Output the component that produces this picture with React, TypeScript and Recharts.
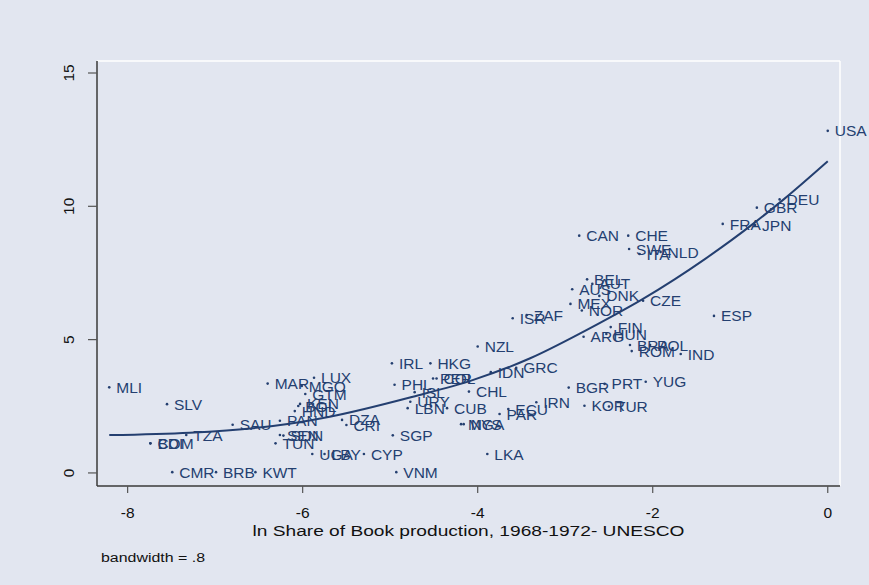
import React from 'react';
import { ComposedChart, Scatter, Line, XAxis, YAxis, ReferenceLine } from 'recharts';

const countries = [
  'MLI', 'SLV', 'BDI', 'COM', 'TZA', 'SAU', 'MAR', 'PAN', 'TUN', 'SDN', 'SEN',
  'CMR', 'BRB', 'KWT', 'LUX', 'MGO', 'GTM', 'KEN', 'BOL', 'HND', 'DZA', 'CRI',
  'UGA', 'LBY', 'CYP', 'SGP', 'VNM', 'IRL', 'HKG', 'PHL', 'PER', 'COL', 'ISL',
  'URY', 'LBN', 'CUB', 'CHL', 'NZL', 'IDN', 'GRC', 'MYS', 'NGA', 'PAR', 'ECU',
  'IRN', 'LKA', 'ISR', 'ZAF', 'BGR', 'PRT', 'YUG', 'KOR', 'TUR', 'ARG', 'FIN',
  'HUN', 'BRA', 'POL', 'ROM', 'IND', 'AUS', 'BEL', 'AUT', 'DNK', 'MEX', 'NOR',
  'CZE', 'CAN', 'CHE', 'SWE', 'ITA', 'NLD', 'ESP', 'FRA', 'JPN', 'GBR', 'DEU', 'USA',
];

const lnBookShare = [
  -8.21, -7.55, -7.74, -7.74, -7.33, -6.80, -6.40, -6.26, -6.31, -6.22, -6.26,
  -7.49, -6.99, -6.54, -5.87, -6.01, -5.97, -6.03, -6.05, -6.09, -5.55, -5.50,
  -5.89, -5.75, -5.30, -4.97, -4.93, -4.98, -4.54, -4.95, -4.51, -4.47, -4.72,
  -4.77, -4.80, -4.35, -4.10, -4.00, -3.85, -3.56, -4.19, -4.16, -3.75, -3.65,
  -3.33, -3.89, -3.60, -3.44, -2.96, -2.55, -2.08, -2.78, -2.50, -2.79, -2.48,
  -2.53, -2.26, -2.03, -2.24, -1.68, -2.92, -2.75, -2.69, -2.61, -2.94, -2.81,
  -2.11, -2.84, -2.28, -2.27, -2.15, -1.91, -1.30, -1.20, -0.83, -0.81, -0.55, 0.0,
];

const yValue = [
  3.21, 2.58, 1.11, 1.11, 1.42, 1.81, 3.35, 1.96, 1.11, 1.40, 1.42,
  0.03, 0.03, 0.03, 3.57, 3.26, 2.96, 2.59, 2.51, 2.32, 1.99, 1.80,
  0.71, 0.71, 0.71, 1.41, 0.03, 4.11, 4.11, 3.31, 3.54, 3.54, 3.03,
  2.67, 2.43, 2.43, 3.05, 4.74, 3.78, 3.94, 1.83, 1.83, 2.21, 2.40,
  2.65, 0.71, 5.80, 5.92, 3.20, 3.34, 3.42, 2.52, 2.49, 5.11, 5.47,
  5.21, 4.80, 4.80, 4.57, 4.46, 6.89, 7.26, 7.09, 6.64, 6.34, 6.09,
  6.46, 8.90, 8.90, 8.40, 8.21, 8.29, 5.89, 9.34, 9.30, 9.95, 10.26, 12.83,
];

const lowessX = [-8.21, -7.29, -6.34, -5.69, -4.74, -4.05, -3.40, -2.79, -2.45, -2.13, -1.75, -1.40, -1.10, -0.85, -0.50, 0.0];
const lowessY = [1.42, 1.51, 1.76, 2.11, 2.86, 3.49, 4.30, 5.30, 5.90, 6.49, 7.26, 8.03, 8.73, 9.35, 10.27, 11.69];

const xTicks = [-8, -6, -4, -2, 0];
const yTicks = [0, 5, 10, 15];
const xTitle = 'ln Share of Book production, 1968-1972- UNESCO';
const noteText = 'bandwidth = .8';

const NAVY = '#243f70';
const BG = '#e2e6f0';
const FONT = '"Liberation Sans", Arial, Helvetica, sans-serif';

const points = countries.map((c, i) => ({ x: lnBookShare[i], y: yValue[i], label: c }));
const lowess = lowessX.map((x, i) => ({ x, y: lowessY[i] }));

const LabeledDot = (props: any) => {
  const { cx, cy, payload } = props;
  if (cx == null || cy == null) return null;
  return (
    <g>
      <circle cx={cx} cy={cy} r={1.3} fill={NAVY} />
      <text x={cx + 7} y={cy + 5.6} fontSize={15.5} fill={NAVY} fontFamily={FONT}>
        {payload.label}
      </text>
    </g>
  );
};

const XTick = (props: any) => {
  const { x, payload } = props;
  return (
    <text x={x} y={517.5} textAnchor="middle" fontSize={15.5} fill="#111" fontFamily={FONT}>
      {payload.value}
    </text>
  );
};

const YTick = (props: any) => {
  const { y, payload } = props;
  return (
    <text
      x={0}
      y={0}
      transform={`translate(73.5, ${y}) rotate(-90)`}
      textAnchor="middle"
      fontSize={15.5}
      fill="#111"
      fontFamily={FONT}
    >
      {payload.value}
    </text>
  );
};

const XTitle = (props: any) => {
  const vb = props.viewBox || { x: 97, width: 743 };
  const cx = vb.x + vb.width / 2;
  return (
    <text
      x={cx - 216}
      y={536}
      fontSize={15.5}
      fill="#111"
      fontFamily={FONT}
      textLength={432}
      lengthAdjust="spacingAndGlyphs"
    >
      {xTitle}
    </text>
  );
};

export default function App() {
  return (
    <div style={{ position: 'absolute', left: 0, top: 0, width: 869, height: 585, background: BG }}>
      <ComposedChart
        width={869}
        height={585}
        margin={{ top: 61, right: 29, bottom: 59, left: 57 }}
      >
        <XAxis
          type="number"
          dataKey="x"
          domain={[-8.35, 0.14]}
          ticks={xTicks}
          tickSize={7}
          tickMargin={0}
          height={40}
          axisLine={{ stroke: '#3a3a3a', strokeWidth: 1.5 }}
          tickLine={{ stroke: '#555', strokeWidth: 1.2 }}
          tick={<XTick />}
          label={<XTitle />}
        />
        <YAxis
          type="number"
          dataKey="y"
          domain={[-0.49, 15.45]}
          ticks={yTicks}
          tickSize={9}
          tickMargin={0}
          width={40}
          axisLine={{ stroke: '#3a3a3a', strokeWidth: 1.5 }}
          tickLine={{ stroke: '#555', strokeWidth: 1.2 }}
          tick={<YTick />}
        />
        <ReferenceLine y={15.45} stroke="#ffffff" strokeWidth={1.5} />
        <ReferenceLine x={0.14} stroke="#ffffff" strokeWidth={1.5} />
        <Scatter data={points} shape={<LabeledDot />} isAnimationActive={false} />
        <Line
          data={lowess}
          dataKey="y"
          type="monotone"
          stroke={NAVY}
          strokeWidth={2}
          dot={false}
          activeDot={false}
          isAnimationActive={false}
        />
      </ComposedChart>
      <svg
        width={869}
        height={585}
        style={{ position: 'absolute', left: 0, top: 0, pointerEvents: 'none' }}
      >
        <text
          x={101}
          y={561.5}
          fontSize={12.5}
          fill="#111"
          fontFamily={FONT}
          textLength={104}
          lengthAdjust="spacingAndGlyphs"
        >
          {noteText}
        </text>
      </svg>
    </div>
  );
}
